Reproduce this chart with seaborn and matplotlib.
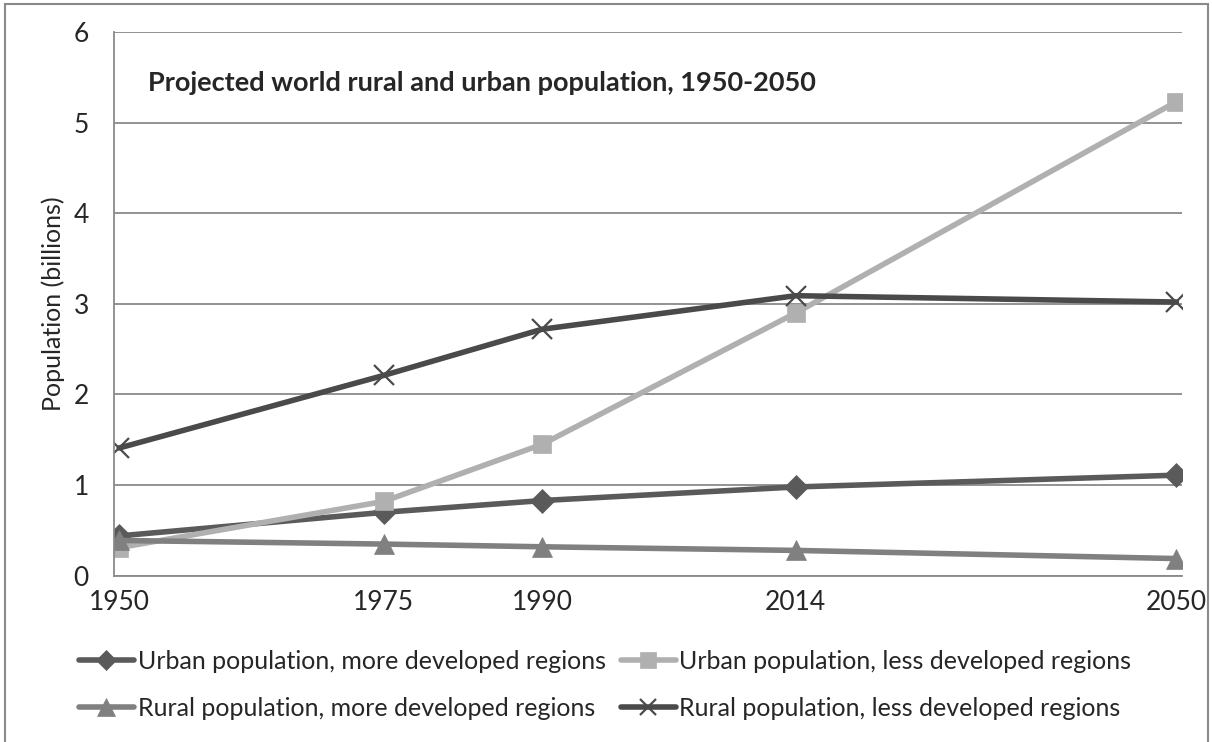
import pandas as pd
import seaborn as sns
import matplotlib.pyplot as plt
from matplotlib.patches import Rectangle

# Data (billions)
years = [1950, 1975, 1990, 2014, 2050]
urban_more = [0.44, 0.70, 0.83, 0.98, 1.11]
urban_less = [0.31, 0.82, 1.45, 2.90, 5.23]
rural_more = [0.39, 0.35, 0.32, 0.28, 0.19]
rural_less = [1.41, 2.21, 2.72, 3.09, 3.02]

names = [
    "Urban population, more developed regions",
    "Urban population, less developed regions",
    "Rural population, more developed regions",
    "Rural population, less developed regions",
]
colors = ["#5a5a5a", "#b0b0b0", "#808080", "#4a4a4a"]
markers = ["D", "s", "^", "x"]
msizes = [12, 13.5, 15, 14]

df = pd.DataFrame({"year": years * 4,
                   "pop": urban_more + urban_less + rural_more + rural_less,
                   "series": [n for n in names for _ in years]})

sns.set_style("white")
plt.rcParams["font.family"] = ["Lato", "DejaVu Sans"]

fig = plt.figure(figsize=(12.12, 7.42), dpi=100)
ax = fig.add_axes([0.094, 0.224, 0.881, 0.733])

for name, c, m, ms in zip(names, colors, markers, msizes):
    sub = df[df["series"] == name]
    sns.lineplot(data=sub, x="year", y="pop", ax=ax, color=c, linewidth=4,
                 marker=m, markersize=ms, markeredgecolor=c,
                 markeredgewidth=1.6 if m == "x" else 0.5, label=name)

ax.set_xlim(1949.5, 2050.5)
ax.set_ylim(0, 6)
ax.set_xticks(years)
ax.set_xticklabels([str(y) for y in years])
ax.set_yticks(range(0, 7))
ax.grid(axis="y", color="#8a8a8a", linewidth=1.3)
ax.grid(axis="x", visible=False)
for s in ["top", "right"]:
    ax.spines[s].set_visible(False)
for s in ["left", "bottom"]:
    ax.spines[s].set_color("#8a8a8a")
    ax.spines[s].set_linewidth(1.3)
ax.tick_params(axis="y", length=6, width=1.3, color="#8a8a8a", labelsize=19, pad=12)
ax.tick_params(axis="x", length=0, labelsize=19, pad=10)
ax.set_xlabel("")
ax.set_ylabel("Population (billions)", fontsize=18, labelpad=6)

ax.text(1952.7, 5.44, "Projected world rural and urban population, 1950-2050",
        fontsize=19.5, fontweight="bold", va="center", ha="left")

h, l = ax.get_legend_handles_labels()
order = [0, 2, 1, 3]
leg = ax.legend([h[i] for i in order], [l[i] for i in order], ncol=2,
                loc="upper center", bbox_to_anchor=(0.46, -0.095), frameon=False,
                fontsize=18, handlelength=2.2, handletextpad=0.15, columnspacing=0.6,
                labelspacing=0.95, markerscale=0.85)

fig.patches.append(Rectangle((5 / 1212, -0.05), 1203 / 1212, 1.05 - 4 / 742,
                             transform=fig.transFigure, fill=False,
                             edgecolor="#8a8a8a", linewidth=1.5))

fig.savefig("out.png", dpi=100)
